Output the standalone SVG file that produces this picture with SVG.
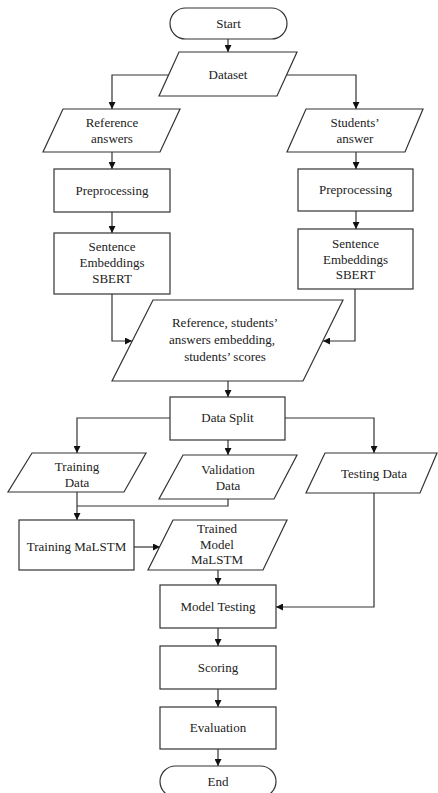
<svg xmlns="http://www.w3.org/2000/svg" width="438" height="793" viewBox="0 0 438 793">
<defs>
<marker id="ah" viewBox="0 0 10 10" refX="10" refY="5" markerWidth="7" markerHeight="7" markerUnits="userSpaceOnUse" orient="auto">
<path d="M0,0 L10,5 L0,10 z" fill="#111"/>
</marker>
<style>
.s{fill:#fff;stroke:#333;stroke-width:1.2}
.c{fill:none;stroke:#333;stroke-width:1.2;marker-end:url(#ah)}
.t text{font-size:13px;fill:#222;text-anchor:middle}
</style>
</defs>
<rect width="438" height="793" fill="#fff"/>
<g id="connectors">
<path class="c" d="M228,39 V52"/>
<path class="c" d="M169,75 H112 V109"/>
<path class="c" d="M287,75 H356 V109"/>
<path class="c" d="M112,152 V169"/>
<path class="c" d="M356,152 V169"/>
<path class="c" d="M112,212 V233"/>
<path class="c" d="M356,211 V229"/>
<path class="c" d="M112,294 V341 H132"/>
<path class="c" d="M355,289 V341 H323"/>
<path class="c" d="M228,381 V397"/>
<path class="c" d="M170,418 H77 V453"/>
<path class="c" d="M285,418 H374 V453"/>
<path class="c" d="M228,440 V455"/>
<path class="c" d="M77,492 V520"/>
<path fill="none" stroke="#333" stroke-width="1.2" d="M228,499 V506 H77"/>
<path class="c" d="M134,547 H160"/>
<path class="c" d="M218,570 V585"/>
<path class="c" d="M374,493 V607 H276"/>
<path class="c" d="M218,628 V646"/>
<path class="c" d="M218,689 V707"/>
<path class="c" d="M218,749 V766"/>
</g>
<g class="t" font-family="Liberation Serif, Times New Roman, serif">
<g id="start"><rect class="s" x="170" y="8" width="117" height="31" rx="15.5"/><text x="228.5" y="28">Start</text></g>
<g id="dataset"><polygon class="s" points="179,52 297,52 277,96 159,96"/><text x="228" y="79">Dataset</text></g>
<g id="ref-answers"><polygon class="s" points="63,109 180,109 160,152 43,152"/><text x="112" y="127">Reference</text><text x="112" y="143">answers</text></g>
<g id="stu-answer"><polygon class="s" points="306,109 423,109 405,152 287,152"/><text x="355" y="127">Students’</text><text x="355" y="143">answer</text></g>
<g id="pre-left"><rect class="s" x="54" y="169" width="116" height="43"/><text x="112" y="195">Preprocessing</text></g>
<g id="pre-right"><rect class="s" x="298" y="169" width="115" height="42"/><text x="355.5" y="194">Preprocessing</text></g>
<g id="sbert-left"><rect class="s" x="54" y="233" width="116" height="61"/><text x="112" y="251">Sentence</text><text x="112" y="267">Embeddings</text><text x="112" y="283">SBERT</text></g>
<g id="sbert-right"><rect class="s" x="298" y="229" width="115" height="60"/><text x="355.5" y="248">Sentence</text><text x="355.5" y="264">Embeddings</text><text x="355.5" y="279">SBERT</text></g>
<g id="embeddings"><polygon class="s" points="153,300 343,300 303,381 112,381"/><text x="225" y="327">Reference, students’</text><text x="222" y="344">answers embedding,</text><text x="225" y="361">students’ scores</text></g>
<g id="data-split"><rect class="s" x="170" y="397" width="115" height="43"/><text x="227.5" y="422">Data Split</text></g>
<g id="training-data"><polygon class="s" points="32,453 146,453 124,492 8,492"/><text x="77" y="471">Training</text><text x="77" y="487">Data</text></g>
<g id="validation-data"><polygon class="s" points="183,455 297,455 274,499 159,499"/><text x="228" y="474">Validation</text><text x="228" y="490">Data</text></g>
<g id="testing-data"><polygon class="s" points="325,453 437,453 420,493 306,493"/><text x="374" y="478">Testing Data</text></g>
<g id="training-malstm"><rect class="s" x="19" y="520" width="115" height="50"/><text x="76.5" y="551">Training MaLSTM</text></g>
<g id="trained-model"><polygon class="s" points="173,520 287,520 263,570 148,570"/><text x="217" y="533">Trained</text><text x="217" y="549">Model</text><text x="217" y="564">MaLSTM</text></g>
<g id="model-testing"><rect class="s" x="160" y="585" width="116" height="43"/><text x="218" y="611">Model Testing</text></g>
<g id="scoring"><rect class="s" x="160" y="646" width="116" height="43"/><text x="218" y="672">Scoring</text></g>
<g id="evaluation"><rect class="s" x="160" y="707" width="116" height="42"/><text x="218" y="732">Evaluation</text></g>
<g id="end"><rect class="s" x="160" y="766" width="116" height="31" rx="15.5"/><text x="218" y="786">End</text></g>
</g>
</svg>
